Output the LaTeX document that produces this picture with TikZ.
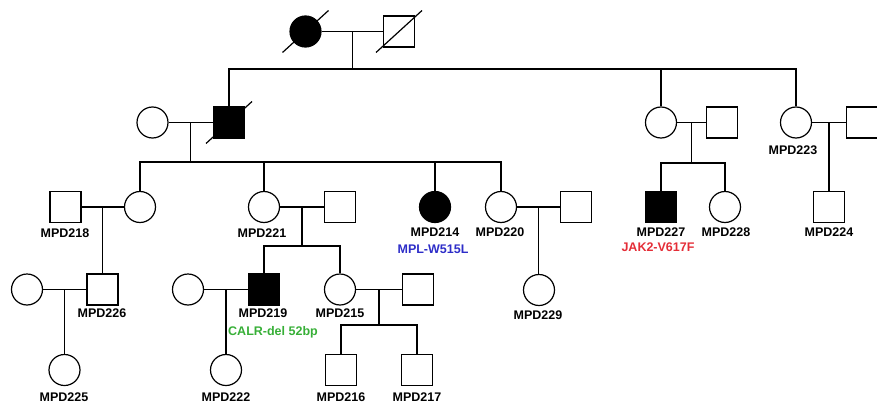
\documentclass[tikz,border=0pt]{standalone}
\usepackage{fontspec}
\setmainfont{Liberation Sans}
\usepackage{tikz}
\usetikzlibrary{positioning,calc}
\definecolor{mutblue}{RGB}{45,45,200}
\definecolor{mutred}{RGB}{228,45,55}
\definecolor{mutgreen}{RGB}{55,175,55}
\newcommand{\deadslash}[1]{\draw (#1.center) ++(-23,21) -- ++(46,-42);}

\begin{document}
\begin{tikzpicture}[x=1pt,y=-1pt,line width=1.2pt,
  male/.style={rectangle,draw,minimum size=31pt,inner sep=0pt},
  female/.style={circle,draw,minimum size=31pt,inner sep=0pt},
  affected/.style={fill=black},
  pid/.style={font=\bfseries\fontsize{12.5}{14}\selectfont,inner sep=0pt,text height=9pt,text depth=0pt}]
\useasboundingbox (0,0) rectangle (877,404);

% generation I
\node[female,affected] (gI1) at (305.5,31.5) {};
\node[male] (gI2) at (399,31.5) {};
\deadslash{gI1}
\deadslash{gI2}

% generation II
\node[female] (gII1) at (152.5,122.5) {};
\node[male,affected] (gII2) at (229,122.5) {};
\deadslash{gII2}
\node[female] (gII3) at (661,122.5) {};
\node[male] (gII4) at (722,122.5) {};
\node[female] (mpd223) at (796,122.5) {};
\node[male] (gII6) at (862,122.5) {};

% generation III
\node[male] (mpd218) at (65.5,207) {};
\node[female] (gIII2) at (140,207) {};
\node[female] (mpd221) at (264,207) {};
\node[male] (sp221) at (340,207) {};
\node[female,affected] (mpd214) at (435,207) {};
\node[female] (mpd220) at (501,207) {};
\node[male] (sp220) at (576,207) {};
\node[male,affected] (mpd227) at (661,207) {};
\node[female] (mpd228) at (725,207) {};
\node[male] (mpd224) at (829,207) {};

% generation IV
\node[female] (gIV1) at (27,289.5) {};
\node[male] (mpd226) at (102.5,289.5) {};
\node[female] (gIV3) at (188,289.5) {};
\node[male,affected] (mpd219) at (264,289.5) {};
\node[female] (mpd215) at (340,289.5) {};
\node[male] (sp215) at (418,289.5) {};
\node[female] (mpd229) at (539,290) {};

% generation V
\node[female] (mpd225) at (64.5,370) {};
\node[female] (mpd222) at (226,370) {};
\node[male] (mpd216) at (341,370) {};
\node[male] (mpd217) at (417,370) {};

% couples and descent
\draw (gI1) -- (gI2);
\coordinate (cI) at ($(gI1.east)!.5!(gI2.west)$);
\coordinate (sI) at ($(cI)+(0,37.5)$);
\draw (cI) -- (sI);
\draw (gII2.north) |- (sI) -| (mpd223.north);
\draw (sI) -| (gII3.north);

\draw (gII1) -- (gII2);
\coordinate (cII1) at ($(gII1.east)!.5!(gII2.west)$);
\coordinate (sII1) at ($(cII1)+(0,39.5)$);
\draw (cII1) -- (sII1);
\draw (gIII2.north) |- (sII1) -| (mpd220.north);
\draw (sII1) -| (mpd221.north);
\draw (sII1) -| (mpd214.north);

\draw (gII3) -- (gII4);
\coordinate (cII2) at ($(gII3.east)!.5!(gII4.west)$);
\coordinate (sII2) at ($(cII2)+(0,40.5)$);
\draw (cII2) -- (sII2);
\draw (mpd227.north) |- (sII2) -| (mpd228.north);

\draw (mpd223) -- (gII6);
\coordinate (cII3) at ($(mpd223.east)!.5!(gII6.west)$);
\draw (cII3) -- (cII3 |- mpd224.north);

\draw (mpd218) -- (gIII2);
\coordinate (cIII1) at ($(mpd218.east)!.5!(gIII2.west)$);
\draw (cIII1) -- (cIII1 |- mpd226.north);

\draw (mpd221) -- (sp221);
\coordinate (cIII2) at ($(mpd221.east)!.5!(sp221.west)$);
\coordinate (sIII2) at ($(cIII2)+(0,39)$);
\draw (cIII2) -- (sIII2);
\draw (mpd219.north) |- (sIII2) -| (mpd215.north);

\draw (mpd220) -- (sp220);
\coordinate (cIII3) at ($(mpd220.east)!.5!(sp220.west)$);
\draw (cIII3) -- (cIII3 |- mpd229.north);

\draw (gIV1) -- (mpd226);
\coordinate (cIV1) at ($(gIV1.east)!.5!(mpd226.west)$);
\draw (cIV1) -- (cIV1 |- mpd225.north);

\draw (gIV3) -- (mpd219);
\coordinate (cIV2) at ($(gIV3.east)!.5!(mpd219.west)$);
\draw (cIV2) -- (cIV2 |- mpd222.north);

\draw (mpd215) -- (sp215);
\coordinate (cIV3) at ($(mpd215.east)!.5!(sp215.west)$);
\coordinate (sIV3) at ($(cIV3)+(0,35.5)$);
\draw (cIV3) -- (sIV3);
\draw (mpd216.north) |- (sIV3) -| (mpd217.north);

% labels
\node[pid] (t223) at (793,150) {MPD223};
\node[pid] (t218) at (65,233) {MPD218};
\node[pid] (t221) at (262,233) {MPD221};
\node[pid] (t214) at (435,232) {MPD214};
\node[pid,text=mutblue] (m214) at (433,249) {MPL-W515L};
\node[pid] (t220) at (500,232) {MPD220};
\node[pid] (t227) at (661,232) {MPD227};
\node[pid,text=mutred] (m227) at (658,247) {JAK2-V617F};
\node[pid] (t228) at (726,232) {MPD228};
\node[pid] (t224) at (829,232) {MPD224};
\node[pid] (t226) at (102,313) {MPD226};
\node[pid] (t219) at (263,313) {MPD219};
\node[pid,text=mutgreen] (m219) at (273,331) {CALR-del 52bp};
\node[pid] (t215) at (340,313) {MPD215};
\node[pid] (t229) at (538,315) {MPD229};
\node[pid] (t225) at (64,397) {MPD225};
\node[pid] (t222) at (226,397) {MPD222};
\node[pid] (t216) at (341,397) {MPD216};
\node[pid] (t217) at (417,397) {MPD217};
\end{tikzpicture}
\end{document}
